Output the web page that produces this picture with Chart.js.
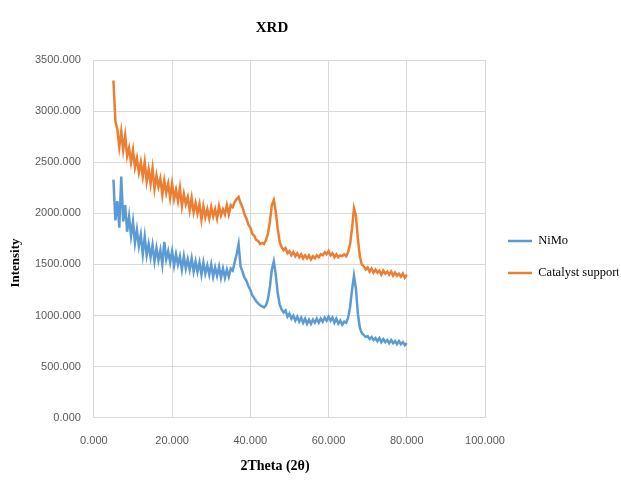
<!DOCTYPE html>
<html>
<head>
<meta charset="utf-8">
<script src="https://cdn.jsdelivr.net/npm/chart.js@4"></script>
<style>
  html, body { margin: 0; padding: 0; background: #fff; }
  #wrap { width: 621px; height: 489px; position: relative; }
</style>
</head>
<body>
<div id="wrap"><canvas id="xrdChart"></canvas></div>
<script>
// 2Theta sampling grid (degrees)
const twoTheta = [
  5.0, 5.5, 6.0, 6.5, 7.0, 7.5, 8.0, 8.5, 9.0, 9.5,
  10.0, 10.5, 11.0, 11.5, 12.0, 12.5, 13.0, 13.5, 14.0, 14.5,
  15.0, 15.5, 16.0, 16.5, 17.0, 17.5, 18.0, 18.5, 19.0, 19.5,
  20.0, 20.5, 21.0, 21.5, 22.0, 22.5, 23.0, 23.5, 24.0, 24.5,
  25.0, 25.5, 26.0, 26.5, 27.0, 27.5, 28.0, 28.5, 29.0, 29.5,
  30.0, 30.5, 31.0, 31.5, 32.0, 32.5, 33.0, 33.5, 34.0, 34.5,
  35.0, 35.5, 36.0, 36.5, 37.0, 37.5, 38.0, 38.5, 39.0, 39.5,
  40.0, 40.5, 41.0, 41.5, 42.0, 42.5, 43.0, 43.5, 44.0, 44.5,
  45.0, 45.5, 46.0, 46.5, 47.0, 47.5, 48.0, 48.5, 49.0, 49.5,
  50.0, 50.5, 51.0, 51.5, 52.0, 52.5, 53.0, 53.5, 54.0, 54.5,
  55.0, 55.5, 56.0, 56.5, 57.0, 57.5, 58.0, 58.5, 59.0, 59.5,
  60.0, 60.5, 61.0, 61.5, 62.0, 62.5, 63.0, 63.5, 64.0, 64.5,
  65.0, 65.5, 66.0, 66.5, 67.0, 67.5, 68.0, 68.5, 69.0, 69.5,
  70.0, 70.5, 71.0, 71.5, 72.0, 72.5, 73.0, 73.5, 74.0, 74.5,
  75.0, 75.5, 76.0, 76.5, 77.0, 77.5, 78.0, 78.5, 79.0, 79.5,
  80.0
];

const nimo = [
  2330, 1930, 2120, 1860, 2360, 1920, 2080, 1820, 1970, 1780,
  1920, 1710, 1840, 1680, 1790, 1600, 1770, 1590, 1700, 1570,
  1690, 1530, 1660, 1540, 1640, 1500, 1720, 1550, 1630, 1520,
  1630, 1490, 1600, 1500, 1580, 1450, 1580, 1460, 1550, 1450,
  1560, 1430, 1530, 1430, 1520, 1400, 1520, 1410, 1490, 1400,
  1500, 1380, 1470, 1390, 1480, 1370, 1460, 1370, 1450, 1380,
  1460, 1440, 1520, 1600, 1700, 1480, 1430, 1370, 1340, 1290,
  1250, 1200, 1170, 1140, 1120, 1100, 1090, 1080, 1100, 1160,
  1280, 1450, 1530, 1400, 1220, 1110, 1060, 1030, 1050, 990,
  1020, 970, 1000, 950, 990, 940, 980, 930, 970, 920,
  960, 920, 960, 930, 970, 930, 970, 940, 980, 950,
  990, 950, 980, 930, 970, 920, 950, 910, 940, 930,
  980, 1080, 1250, 1390, 1260, 1020, 880, 830, 810, 790,
  800, 770, 790, 760, 780, 750, 780, 740, 770, 740,
  760, 730, 760, 730, 750, 720, 750, 720, 740, 710,
  730
];

const catalystSupport = [
  3300, 2900, 2820, 2650, 2800, 2620, 2760, 2560, 2640, 2500,
  2620, 2450, 2540, 2400, 2500, 2360, 2500, 2310, 2430, 2290,
  2440, 2240, 2370, 2260, 2340, 2180, 2320, 2200, 2290, 2150,
  2290, 2140, 2230, 2120, 2250, 2070, 2190, 2090, 2160, 2030,
  2150, 2010, 2100, 2000, 2090, 1940, 2070, 1960, 2040, 1950,
  2060, 1970, 2040, 1950, 2070, 1980, 2040, 1990, 2080, 1990,
  2080, 2060, 2110, 2140, 2160, 2100, 2060, 1990, 1950, 1890,
  1860, 1800, 1780, 1740, 1730, 1700, 1710, 1700, 1740, 1800,
  1920, 2080, 2130, 2020, 1850, 1720, 1670, 1640, 1660, 1610,
  1630, 1590, 1620, 1580, 1610, 1570, 1600, 1560, 1590, 1560,
  1590, 1550, 1580, 1560, 1590, 1570, 1600, 1590, 1620, 1600,
  1630, 1590, 1610, 1570, 1600, 1570, 1590, 1580, 1600, 1580,
  1620, 1700, 1850, 2050, 1980, 1750, 1580, 1500, 1480, 1450,
  1470, 1430, 1460, 1420, 1450, 1420, 1440, 1400, 1440, 1410,
  1430, 1400, 1430, 1390, 1420, 1390, 1410, 1380, 1410, 1370,
  1400
];

const xTickStep = 20;
const yTickStep = 500;

function toPoints(ys) {
  return twoTheta.map((x, i) => ({ x: x, y: ys[i] }));
}

const serif = "'Liberation Serif', 'Times New Roman', serif";
const sans = "'Liberation Sans', Arial, sans-serif";

// chart title and axis titles, placed where Excel had them
const titlesPlugin = {
  id: "xrdTitles",
  afterLayout(chart) {
    // nudge the legend block to sit like the original
    const lg = chart.legend;
    const dx = 488.5 - lg.left;
    const dy = 257 - (lg.top + lg.bottom) / 2;
    lg.left += dx; lg.right += dx;
    lg.top += dy; lg.bottom += dy;
  },
  afterDraw(chart) {
    const c = chart.ctx;
    c.save();
    c.fillStyle = "#000";
    c.textAlign = "center";
    c.textBaseline = "middle";
    c.font = "bold 15px " + serif;
    c.fillText("XRD", 272, 28);
    c.font = "bold 14px " + serif;
    c.fillText("2Theta (2θ)", 275, 466);
    c.translate(16, 263);
    c.rotate(-Math.PI / 2);
    c.font = "bold 13px " + serif;
    c.fillText("Intensity", 0, 0);
    c.restore();
  }
};

const ctx = document.getElementById("xrdChart");
const config = {
  type: "line",
  data: {
    datasets: [
      {
        label: "NiMo",
        data: toPoints(nimo),
        borderColor: "#5B9BD5",
        backgroundColor: "#5B9BD5",
        borderWidth: 2.5,
        pointRadius: 0,
        tension: 0,
      },
      {
        label: "Catalyst support",
        data: toPoints(catalystSupport),
        borderColor: "#ED7D31",
        backgroundColor: "#ED7D31",
        borderWidth: 2.5,
        pointRadius: 0,
        tension: 0,
      },
    ],
  },
  options: {
    responsive: true,
    maintainAspectRatio: false,
    animation: false,
    layout: {
      padding: { top: 60, right: 6, bottom: 24, left: 22 },
    },
    plugins: {
      title: { display: false },
      tooltip: { enabled: false },
      legend: {
        position: "right",
        maxWidth: 130,
        labels: {
          usePointStyle: true,
          pointStyle: "line",
          pointStyleWidth: 24,
          padding: 19.5,
          color: "#000",
          font: { family: serif, size: 12.5 },
        },
      },
    },
    scales: {
      x: {
        type: "linear",
        min: 0,
        max: 100,
        grid: { color: "#d9d9d9", drawTicks: false },
        border: { color: "#d9d9d9" },
        ticks: {
          stepSize: xTickStep,
          padding: 17,
          color: "#595959",
          font: { family: sans, size: 11 },
          callback: (v) => v.toFixed(3),
        },
      },
      y: {
        min: 0,
        max: 3500,
        grid: { color: "#d9d9d9", drawTicks: false },
        border: { color: "#d9d9d9" },
        ticks: {
          stepSize: yTickStep,
          padding: 13,
          color: "#595959",
          font: { family: sans, size: 11 },
          callback: (v) => v.toFixed(3),
        },
      },
    },
  },
  plugins: [titlesPlugin],
};
const xrdChart = new Chart(ctx, config);
</script>
</body>
</html>
